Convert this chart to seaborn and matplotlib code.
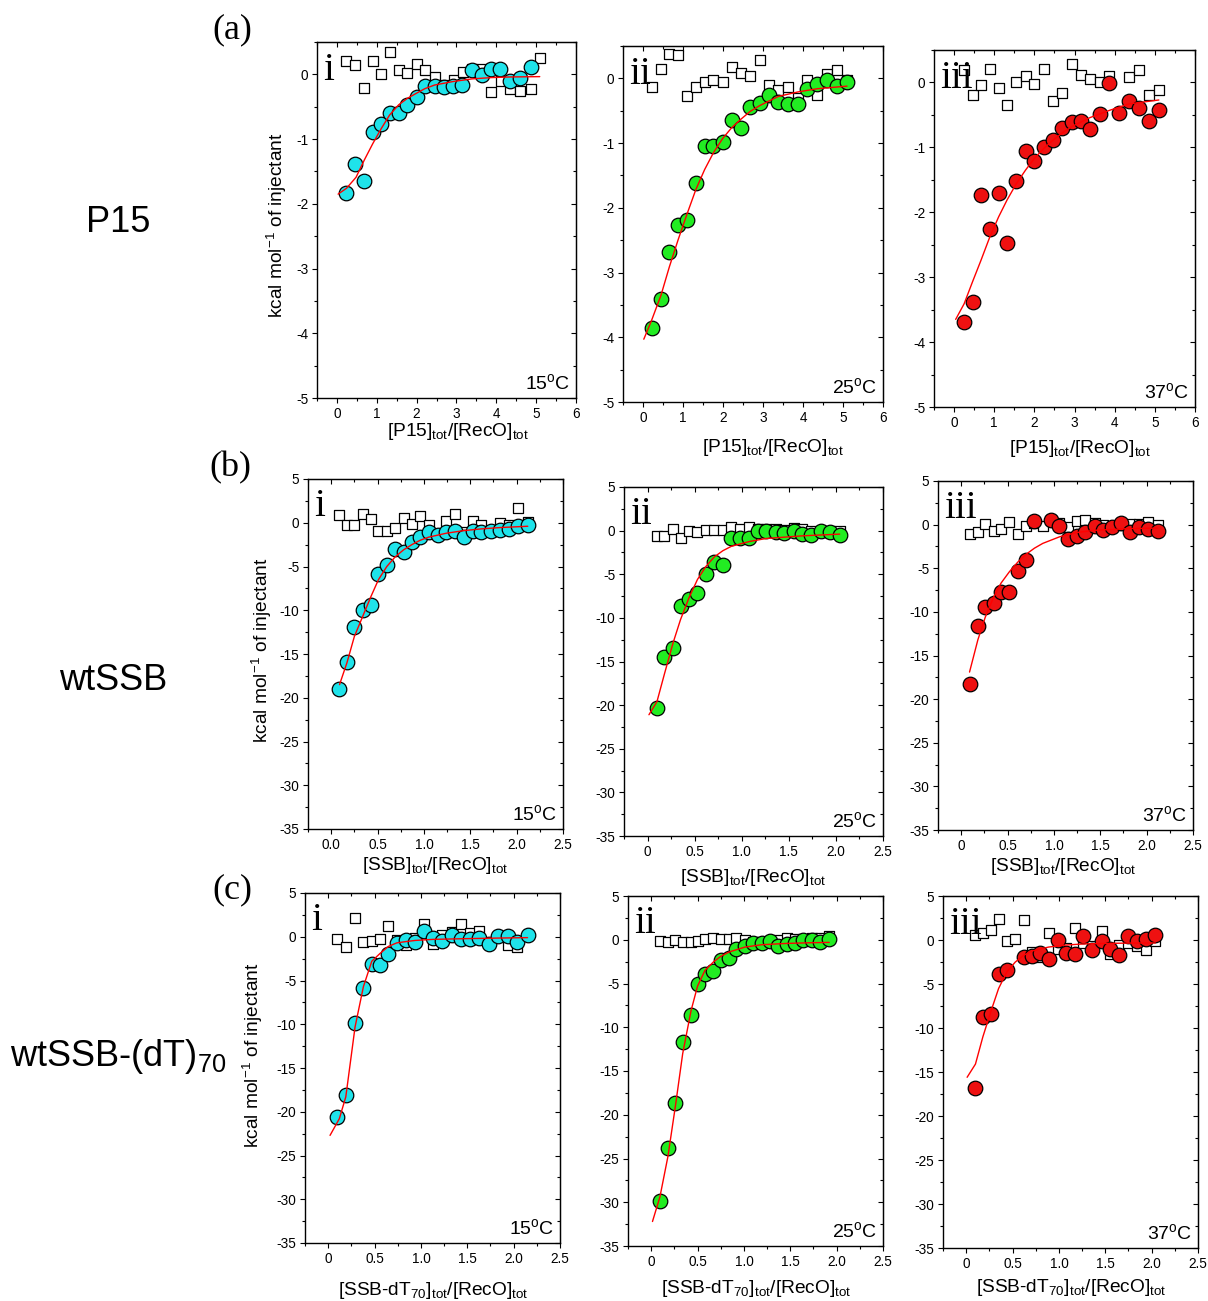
import matplotlib
matplotlib.use("Agg")
import matplotlib.pyplot as plt
from matplotlib.ticker import MultipleLocator
import seaborn as sns

# ---- data (dH per injection, kcal/mol) ----
# (a) P15
p15_15_x = [0.24, 0.45, 0.68, 0.90, 1.11, 1.32, 1.55, 1.77, 2.00, 2.21, 2.45, 2.68, 2.92, 3.15, 3.39, 3.63, 3.87, 4.10, 4.35, 4.59, 4.86]
p15_15_dh = [-1.83, -1.38, -1.64, -0.89, -0.77, -0.59, -0.60, -0.47, -0.35, -0.18, -0.18, -0.19, -0.18, -0.16, 0.07, -0.005, 0.08, 0.08, -0.10, -0.05, 0.12]
p15_15_blank_x = [0.24, 0.45, 0.68, 0.90, 1.11, 1.33, 1.55, 1.77, 2.00, 2.22, 2.46, 2.68, 2.93, 3.16, 3.40, 3.64, 3.87, 4.12, 4.35, 4.60, 4.86, 5.10]
p15_15_blank = [0.20, 0.14, -0.21, 0.20, 0.0, 0.35, 0.07, 0.015, 0.16, 0.07, -0.04, -0.16, -0.08, 0.03, 0.08, 0.08, -0.27, -0.11, -0.22, -0.26, -0.22, 0.26]
p15_15_fit_x = [0.03, 0.24, 0.48, 0.69, 0.90, 1.11, 1.32, 1.55, 1.77, 2.00, 2.21, 2.45, 2.92, 3.39, 3.87, 4.35, 5.09]
p15_15_fit = [-1.85, -1.76, -1.59, -1.32, -1.07, -0.84, -0.63, -0.47, -0.37, -0.29, -0.22, -0.165, -0.11, -0.07, -0.05, -0.04, -0.035]

p15_25_x = [0.22, 0.45, 0.66, 0.88, 1.11, 1.32, 1.54, 1.76, 1.99, 2.22, 2.45, 2.68, 2.92, 3.15, 3.38, 3.62, 3.87, 4.11, 4.36, 4.61, 4.85, 5.10]
p15_25_dh = [-3.85, -3.41, -2.68, -2.26, -2.19, -1.62, -1.05, -1.05, -0.98, -0.64, -0.76, -0.45, -0.38, -0.26, -0.36, -0.39, -0.39, -0.17, -0.08, -0.03, -0.12, -0.05]
p15_25_blank_x = p15_25_x
p15_25_blank = [-0.13, 0.15, 0.37, 0.36, -0.28, -0.14, -0.06, -0.03, -0.05, 0.18, 0.09, 0.04, 0.29, -0.10, -0.18, -0.14, -0.30, -0.02, -0.26, 0.06, 0.13, -0.03]
p15_25_fit_x = [0.02, 0.22, 0.45, 0.66, 0.88, 1.11, 1.32, 1.54, 1.76, 1.99, 2.22, 2.45, 2.68, 2.92, 3.38, 3.87, 4.36, 5.10]
p15_25_fit = [-4.03, -3.73, -3.35, -2.91, -2.49, -2.08, -1.72, -1.41, -1.15, -0.93, -0.76, -0.63, -0.51, -0.42, -0.28, -0.21, -0.16, -0.12]

p15_37_x = [0.25, 0.46, 0.67, 0.89, 1.11, 1.32, 1.55, 1.78, 2.00, 2.23, 2.46, 2.69, 2.93, 3.16, 3.39, 3.63, 3.87, 4.11, 4.36, 4.60, 4.85, 5.10]
p15_37_dh = [-3.69, -3.39, -1.73, -2.25, -1.70, -2.48, -1.52, -1.05, -1.21, -1.00, -0.88, -0.70, -0.61, -0.60, -0.71, -0.48, -0.01, -0.47, -0.29, -0.40, -0.60, -0.42]
p15_37_blank_x = [0.25, 0.46, 0.67, 0.89, 1.11, 1.32, 1.55, 1.78, 2.00, 2.23, 2.46, 2.69, 2.93, 3.16, 3.39, 3.63, 3.87, 4.36, 4.60, 4.85, 5.10]
p15_37_blank = [0.19, -0.20, -0.04, 0.20, -0.09, -0.35, 0.0, 0.10, -0.03, 0.20, -0.29, -0.16, 0.29, 0.12, 0.05, 0.0, 0.10, 0.09, 0.19, -0.20, -0.12]
p15_37_fit_x = [0.04, 0.25, 0.46, 0.67, 0.89, 1.11, 1.32, 1.55, 1.78, 2.00, 2.23, 2.46, 2.69, 2.93, 3.39, 3.87, 4.36, 5.10]
p15_37_fit = [-3.65, -3.41, -3.07, -2.74, -2.38, -2.07, -1.81, -1.56, -1.35, -1.17, -1.02, -0.89, -0.78, -0.68, -0.54, -0.43, -0.33, -0.27]

# (b) wtSSB
ssb_15_x = [0.083, 0.17, 0.25, 0.34, 0.43, 0.51, 0.60, 0.69, 0.78, 0.87, 0.96, 1.05, 1.15, 1.24, 1.34, 1.43, 1.53, 1.62, 1.72, 1.82, 1.92, 2.02, 2.12]
ssb_15_dh = [-19.0, -15.9, -11.9, -10.0, -9.4, -5.9, -4.8, -3.0, -3.3, -2.2, -1.6, -1.0, -1.4, -1.1, -0.95, -1.6, -0.9, -1.07, -0.95, -0.8, -0.7, -0.4, -0.2]
ssb_15_blank_x = ssb_15_x
ssb_15_blank = [0.9, -0.3, -0.2, 1.0, 0.45, -0.95, -0.95, -0.6, 0.55, -0.1, 0.8, -0.2, -1.25, 0.25, 1.0, -1.05, 0.15, -0.2, -0.9, -0.05, -0.2, 1.7, 0.1]
ssb_15_fit_x = [0.09, 0.17, 0.25, 0.34, 0.43, 0.51, 0.60, 0.69, 0.78, 0.87, 0.96, 1.05, 1.24, 1.43, 1.62, 1.82, 2.12]
ssb_15_fit = [-18.5, -16.0, -13.0, -10.7, -8.4, -6.5, -5.0, -3.9, -3.1, -2.5, -2.0, -1.65, -1.2, -0.9, -0.7, -0.55, -0.4]

ssb_25_x = [0.10, 0.18, 0.27, 0.35, 0.44, 0.53, 0.62, 0.71, 0.80, 0.89, 0.98, 1.08, 1.17, 1.26, 1.36, 1.45, 1.55, 1.64, 1.74, 1.84, 1.94, 2.04]
ssb_25_dh = [-20.3, -14.5, -13.5, -8.6, -7.8, -7.1, -5.0, -3.6, -3.9, -0.8, -0.8, -0.9, -0.1, 0.0, -0.2, -0.3, -0.1, -0.35, -0.5, -0.05, -0.2, -0.5]
ssb_25_blank_x = ssb_25_x
ssb_25_blank = [-0.6, -0.6, 0.2, -0.8, -0.1, -0.2, 0.1, 0.05, 0.05, 0.4, 0.2, 0.4, 0.2, 0.2, 0.2, 0.1, 0.3, 0.2, 0.0, -0.2, 0.0, 0.0]
ssb_25_fit_x = [0.015, 0.10, 0.18, 0.27, 0.35, 0.44, 0.53, 0.62, 0.71, 0.80, 0.89, 1.08, 1.26, 1.45, 1.64, 1.84, 2.04]
ssb_25_fit = [-21.1, -19.6, -16.4, -12.9, -10.2, -7.7, -5.6, -4.1, -3.0, -2.3, -1.8, -1.25, -0.9, -0.75, -0.6, -0.5, -0.4]

ssb_37_x = [0.09, 0.18, 0.26, 0.35, 0.43, 0.52, 0.61, 0.70, 0.79, 0.97, 1.06, 1.15, 1.25, 1.34, 1.44, 1.53, 1.63, 1.72, 1.82, 1.92, 2.02, 2.12]
ssb_37_dh = [-18.3, -11.6, -9.4, -9.0, -7.7, -7.7, -5.3, -4.0, 0.4, 0.5, -0.2, -1.6, -1.3, -0.8, -0.2, -0.6, -0.3, 0.2, -0.8, -0.3, -0.5, -0.7]
ssb_37_blank_x = [0.09, 0.18, 0.26, 0.35, 0.43, 0.52, 0.61, 0.70, 0.79, 0.88, 0.97, 1.06, 1.15, 1.25, 1.34, 1.44, 1.53, 1.63, 1.72, 1.82, 1.92, 2.02, 2.12]
ssb_37_blank = [-1.1, -0.8, 0.1, -0.7, -0.5, 0.3, -1.05, -0.2, 0.15, -0.2, 0.5, 0.15, -0.3, 0.45, 0.5, 0.2, -0.05, -0.3, -0.05, 0.1, 0.1, 0.25, -0.05]
ssb_37_fit_x = [0.09, 0.18, 0.26, 0.35, 0.43, 0.52, 0.61, 0.70, 0.79, 0.88, 1.06, 1.25, 1.44, 1.63, 1.82, 2.12]
ssb_37_fit = [-16.9, -13.2, -10.6, -8.3, -6.7, -5.4, -4.3, -3.4, -2.7, -2.15, -1.4, -0.9, -0.65, -0.55, -0.45, -0.4]

# (c) wtSSB-(dT)70
dt_15_x = [0.10, 0.19, 0.29, 0.38, 0.47, 0.56, 0.65, 0.74, 0.84, 0.94, 1.03, 1.13, 1.23, 1.33, 1.43, 1.53, 1.63, 1.73, 1.83, 1.94, 2.04, 2.15]
dt_15_dh = [-20.6, -18.1, -9.8, -5.8, -3.1, -3.2, -1.95, -0.7, -0.35, -0.55, 0.7, -0.15, -0.45, 0.25, -0.25, -0.25, -0.15, -0.85, 0.1, 0.05, -0.6, 0.25]
dt_15_blank_x = [0.10, 0.19, 0.29, 0.38, 0.47, 0.56, 0.65, 0.74, 0.84, 0.94, 1.03, 1.13, 1.23, 1.33, 1.43, 1.53, 1.63, 1.94, 2.04]
dt_15_blank = [-0.25, -1.2, 2.15, -0.55, -0.45, -0.3, 1.25, -0.35, -0.9, -0.15, 1.5, -0.85, 0.15, 0.6, 1.5, 0.4, 0.7, -0.9, -1.2]
dt_15_fit_x = [0.02, 0.12, 0.19, 0.29, 0.38, 0.47, 0.56, 0.65, 0.74, 0.84, 0.94, 1.13, 1.43, 1.83, 2.15]
dt_15_fit = [-22.7, -20.8, -18.3, -10.3, -5.7, -2.8, -1.9, -1.1, -0.7, -0.55, -0.42, -0.3, -0.23, -0.15, -0.1]

dt_25_x = [0.094, 0.18, 0.26, 0.34, 0.43, 0.50, 0.58, 0.67, 0.75, 0.84, 0.92, 1.01, 1.10, 1.19, 1.28, 1.37, 1.46, 1.55, 1.64, 1.73, 1.82, 1.92]
dt_25_dh = [-29.8, -23.8, -18.6, -11.7, -8.6, -5.0, -3.96, -3.6, -2.3, -2.1, -1.0, -0.76, -0.42, -0.38, -0.15, -0.69, -0.5, -0.42, 0.0, -0.08, -0.3, 0.04]
dt_25_blank_x = dt_25_x
dt_25_blank = [-0.15, -0.2, 0.0, -0.23, -0.2, -0.15, 0.08, 0.23, 0.11, 0.11, 0.19, 0.0, -0.2, -0.3, -0.27, 0.0, 0.23, 0.11, 0.11, 0.19, 0.15, 0.42]
dt_25_fit_x = [0.014, 0.094, 0.18, 0.26, 0.34, 0.43, 0.50, 0.58, 0.67, 0.75, 0.84, 1.01, 1.19, 1.46, 1.73, 1.92]
dt_25_fit = [-32.2, -29.4, -24.8, -19.1, -13.0, -8.1, -5.3, -3.5, -2.55, -1.9, -1.4, -0.84, -0.57, -0.42, -0.34, -0.3]

dt_37_x = [0.10, 0.18, 0.27, 0.35, 0.44, 0.62, 0.71, 0.80, 0.89, 0.99, 1.08, 1.17, 1.26, 1.36, 1.46, 1.55, 1.65, 1.75, 1.84, 1.94, 2.04]
dt_37_dh = [-16.8, -8.7, -8.4, -3.9, -3.45, -1.97, -1.86, -1.44, -2.12, -0.04, -1.44, -1.55, 0.49, -1.14, -0.11, -1.06, -1.74, 0.49, -0.11, 0.15, 0.6]
dt_37_blank_x = [0.10, 0.18, 0.27, 0.35, 0.44, 0.53, 0.62, 0.71, 0.80, 0.89, 0.99, 1.08, 1.17, 1.26, 1.36, 1.46, 1.55, 1.65, 1.75, 1.84, 1.94, 2.04]
dt_37_blank = [0.6, 0.83, 1.17, 2.4, -0.15, 0.15, 2.3, -1.36, -1.93, 0.8, -1.0, -0.87, 1.4, -0.34, -0.72, 1.06, -1.63, -0.6, -0.34, -0.72, -1.1, -0.08]
dt_37_fit_x = [0.01, 0.10, 0.18, 0.27, 0.35, 0.44, 0.53, 0.62, 0.71, 0.89, 1.08, 1.26, 1.55, 1.84, 2.04]
dt_37_fit = [-15.6, -14.1, -11.0, -8.0, -5.5, -3.6, -2.5, -1.74, -1.25, -0.8, -0.57, -0.45, -0.38, -0.34, -0.34]

# ---- tick labels and texts ----
p15_xticks = [0, 1, 2, 3, 4, 5, 6]
p15_xticklabels = ["0", "1", "2", "3", "4", "5", "6"]
p15_yticks = [-5, -4, -3, -2, -1, 0]
ssb_xticks = [0.0, 0.5, 1.0, 1.5, 2.0, 2.5]
ssb_xticklabels = ["0", "0.5", "1.0", "1.5", "2.0", "2.5"]
ssb_xticklabels_first = ["0.0", "0.5", "1.0", "1.5", "2.0", "2.5"]
ssb_yticks = [-35, -30, -25, -20, -15, -10, -5, 0, 5]

temps = ["15", "25", "37"]
numerals = ["i", "ii", "iii"]
row_letters = ["(a)", "(b)", "(c)"]
row_names = ["P15", "wtSSB", "wtSSB-(dT)$_{70}$"]
xlabels = [r"[P15]$_{\mathrm{tot}}$/[RecO]$_{\mathrm{tot}}$",
           r"[SSB]$_{\mathrm{tot}}$/[RecO]$_{\mathrm{tot}}$",
           r"[SSB-dT$_{70}$]$_{\mathrm{tot}}$/[RecO]$_{\mathrm{tot}}$"]
ylabel = r"kcal mol$^{-1}$ of injectant"
colors = ["#1fe3ea", "#22ec22", "#ee1111"]

W, H = 1208, 1301

sns.set_style("ticks")
plt.rcParams["font.family"] = ["Liberation Sans", "DejaVu Sans"]
plt.rcParams["mathtext.fontset"] = "custom"
plt.rcParams["mathtext.rm"] = "Liberation Sans"
plt.rcParams["mathtext.it"] = "Liberation Sans:italic"
plt.rcParams["axes.unicode_minus"] = False
plt.rcParams["text.color"] = "black"


def fx(x):
    return x / W


def fy(y):
    return 1 - y / H


def rect(left, top, right, bottom):
    return [fx(left), fy(bottom), (right - left) / W, (bottom - top) / H]


panels = [
    # row a
    dict(box=(317, 42, 576, 398), x=p15_15_x, y=p15_15_dh, bx=p15_15_blank_x, by=p15_15_blank,
         fx=p15_15_fit_x, fy=p15_15_fit, lab=(458, 436)),
    dict(box=(623, 46, 883, 402), x=p15_25_x, y=p15_25_dh, bx=p15_25_blank_x, by=p15_25_blank,
         fx=p15_25_fit_x, fy=p15_25_fit, lab=(773, 452)),
    dict(box=(934, 50, 1195, 407), x=p15_37_x, y=p15_37_dh, bx=p15_37_blank_x, by=p15_37_blank,
         fx=p15_37_fit_x, fy=p15_37_fit, lab=(1080, 453)),
    # row b
    dict(box=(308, 479, 563, 829), x=ssb_15_x, y=ssb_15_dh, bx=ssb_15_blank_x, by=ssb_15_blank,
         fx=ssb_15_fit_x, fy=ssb_15_fit, lab=(435, 870)),
    dict(box=(624, 487, 883, 836), x=ssb_25_x, y=ssb_25_dh, bx=ssb_25_blank_x, by=ssb_25_blank,
         fx=ssb_25_fit_x, fy=ssb_25_fit, lab=(753, 882)),
    dict(box=(938, 481, 1193, 830), x=ssb_37_x, y=ssb_37_dh, bx=ssb_37_blank_x, by=ssb_37_blank,
         fx=ssb_37_fit_x, fy=ssb_37_fit, lab=(1063, 871)),
    # row c
    dict(box=(305, 893, 560, 1243), x=dt_15_x, y=dt_15_dh, bx=dt_15_blank_x, by=dt_15_blank,
         fx=dt_15_fit_x, fy=dt_15_fit, lab=(433, 1295)),
    dict(box=(628, 896, 883, 1246), x=dt_25_x, y=dt_25_dh, bx=dt_25_blank_x, by=dt_25_blank,
         fx=dt_25_fit_x, fy=dt_25_fit, lab=(756, 1293)),
    dict(box=(943, 896, 1198, 1248), x=dt_37_x, y=dt_37_dh, bx=dt_37_blank_x, by=dt_37_blank,
         fx=dt_37_fit_x, fy=dt_37_fit, lab=(1071, 1292)),
]

fig = plt.figure(figsize=(W / 100, H / 100), dpi=100)

for i, p in enumerate(panels):
    row, col = divmod(i, 3)
    ax = fig.add_axes(rect(*p["box"]))

    sns.scatterplot(x=p["bx"], y=p["by"], marker="s", s=42, color="white",
                    edgecolor="black", linewidth=0.9, ax=ax, zorder=2)
    sns.scatterplot(x=p["x"], y=p["y"], marker="o", s=110, color=colors[col],
                    edgecolor="black", linewidth=0.9, ax=ax, zorder=3)
    sns.lineplot(x=p["fx"], y=p["fy"], color="red", lw=1.0, sort=False,
                 estimator=None, ax=ax, zorder=4)

    if row == 0:
        ax.set_xlim(-0.5, 6)
        ax.set_ylim(-5, 0.5)
        xt, xl, yt = p15_xticks, p15_xticklabels, p15_yticks
        xminor, yminor = 0.5, 0.5
    else:
        ax.set_xlim(-0.25, 2.5)
        ax.set_ylim(-35, 5)
        xt, yt = ssb_xticks, ssb_yticks
        xl = ssb_xticklabels_first if (row == 1 and col == 0) else ssb_xticklabels
        xminor, yminor = 0.25, 2.5

    ax.set_xticks(xt, xl)
    ax.set_yticks(yt)
    ax.xaxis.set_minor_locator(MultipleLocator(xminor))
    ax.yaxis.set_minor_locator(MultipleLocator(yminor))
    ax.tick_params(which="both", direction="out", colors="black", labelsize=9.8, width=0.8, pad=2.5)
    ax.tick_params(which="major", length=3.8)
    ax.tick_params(which="minor", length=2.0)
    for sp in ax.spines.values():
        sp.set_linewidth(1.0)
        sp.set_color("black")
    ax.set_xlabel("")
    ax.set_ylabel("")

    # mirrored ticks pointing inward on top and right
    top = ax.secondary_xaxis("top")
    top.set_xticks(xt)
    top.xaxis.set_minor_locator(MultipleLocator(xminor))
    top.tick_params(which="both", direction="in", labeltop=False, width=0.8, colors="black")
    top.tick_params(which="major", length=3.8)
    top.tick_params(which="minor", length=2.0)
    right = ax.secondary_yaxis("right")
    right.set_yticks(yt)
    right.yaxis.set_minor_locator(MultipleLocator(yminor))
    right.tick_params(which="both", direction="in", labelright=False, width=0.8, colors="black")
    right.tick_params(which="major", length=3.8)
    right.tick_params(which="minor", length=2.0)

    ax.text(0.025, 0.893, numerals[col], transform=ax.transAxes, ha="left", va="baseline",
            fontsize=28, family=["Liberation Serif", "DejaVu Serif"])
    ax.text(0.978, 0.026, temps[col] + r"$^{\mathrm{o}}$C", transform=ax.transAxes,
            ha="right", va="baseline", fontsize=14)

    lx, ly = p["lab"]
    fig.text(fx(lx), fy(ly), xlabels[row], ha="center", va="baseline", fontsize=13.8)

# y labels
for (x, y) in [(277, 225), (262, 650), (253, 1055)]:
    fig.text(fx(x), fy(y), ylabel, rotation=90, ha="center", va="center", fontsize=13.8)

# row letters and names
for (x, y), t in zip([(232, 30), (230, 468), (232, 890)], row_letters):
    fig.text(fx(x), fy(y), t, ha="center", va="center", fontsize=26,
             family=["Liberation Serif", "DejaVu Serif"])
for (x, y), t in zip([(118, 222), (113, 680), (118, 1057)], row_names):
    fig.text(fx(x), fy(y), t, ha="center", va="center", fontsize=26)

fig.savefig("out.png", dpi=100, facecolor="white")
